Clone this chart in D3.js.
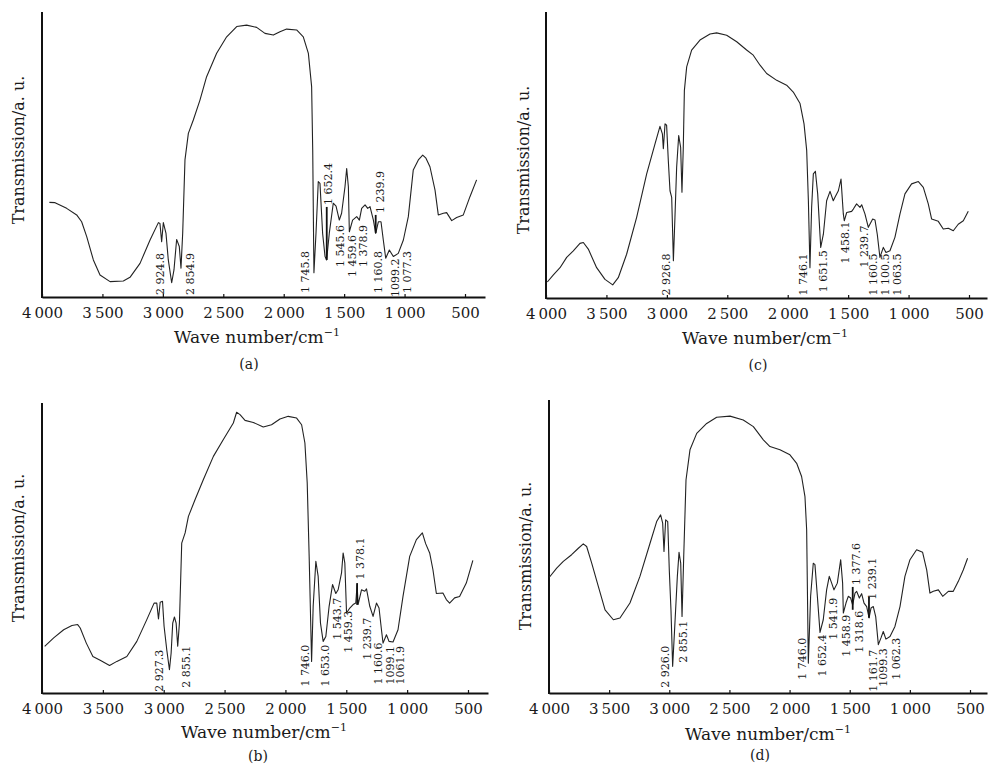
<!DOCTYPE html>
<html>
<head>
<meta charset="utf-8">
<script src="https://cdn.jsdelivr.net/npm/d3@7"></script>
<style>
  body { margin: 0; background: #fff; }
  svg text { font-family: "DejaVu Serif", serif; fill: #1a1a1a; }
</style>
</head>
<body>
<script>
'use strict';

// tick values shared by all four panels
var tickWaves = [4000, 3500, 3000, 2500, 2000, 1500, 1000, 500];

// panel (a) spectrum
var waveA = [3939,3892,3796,3713,3672,3630,3575,3520,3437,3327,3272,3189,3106,3037,3024,3010,2996,2974,2955,2927,
  2908,2886,2864,2850,2836,2817,2789,2748,2693,2638,2555,2472,2389,2307,2224,2155,2086,2031,1976,1893,
  1838,1796,1769,1760,1750,1733,1714,1700,1678,1658,1645,1623,1590,1567,1540,1521,1493,1479,1465,1457,
  1430,1396,1374,1355,1327,1305,1286,1258,1239,1217,1195,1176,1156,1126,1093,1052,1010,969,928,886,
  850,823,790,748,721,679,652,610,569,514,459,404];
var transA = [33.2,33.1,31.1,28.8,26.4,21.2,13.0,7.7,5.4,5.6,6.9,11.8,20.0,26.1,25.8,19.4,26.1,22.3,13.0,5.0,
  9.5,20.2,17.7,10.1,22.3,48.1,57.4,62.1,69.1,77.3,85.5,91.3,94.9,95.4,94.6,92.5,91.9,93.1,94.0,93.7,
  91.3,85.5,73.8,51.6,8.5,22.3,40.5,39.9,22.3,14.2,13.0,22.3,32.9,31.9,27.0,29.4,38.7,45.1,38.7,22.9,
  27.0,28.2,27.0,31.1,32.3,31.1,31.7,27.0,22.3,26.4,26.4,20.0,13.6,16.5,14.2,15.3,20.0,28.2,44.6,48.1,
  49.8,48.7,45.7,37.5,28.8,29.4,29.6,26.8,27.9,28.8,35.2,41.1];
var peaksA = ['2 924.8','2 854.9','1 745.8','1 652.4','1 545.6','1 459.6','1 378.9','1 239.9','1 160.8','1099.2','1 077.3'];
var peakWaveA = [3024,2775,1824,1634,1534,1435,1344,1203,1220,1079,980];
var peakTransA = [0.7,0.7,1.4,32.3,10.5,7.0,10.5,29.5,1.4,0,1.4];
var leadersA = [[1644,13,31.6],[1239,22.5,28.8]];

// panel (b) spectrum
var waveB = [3978,3904,3822,3754,3707,3686,3636,3582,3522,3445,3385,3303,3221,3139,3079,3057,3043,3029,3010,2997,
  2975,2953,2939,2926,2912,2898,2885,2871,2852,2824,2797,2742,2674,2592,2510,2428,2401,2373,2332,2264,
  2182,2114,2045,1977,1908,1867,1840,1821,1805,1785,1772,1750,1731,1712,1690,1668,1641,1613,1586,1567,
  1539,1526,1512,1498,1471,1444,1422,1411,1403,1375,1348,1334,1307,1280,1252,1231,1211,1198,1170,1149,
  1116,1075,1034,979,924,875,848,815,788,760,706,678,651,610,569,514,460];
var transB = [16.1,19.0,21.8,23.3,23.6,22.4,17.2,12.6,11.3,9.5,10.9,12.6,17.8,25.3,31.0,31.0,25.5,31.3,31.6,23.0,
  14.9,8.0,13.8,24.1,26.2,24.1,16.1,24.1,51.7,55.2,60.9,66.7,73.6,81.6,87.4,93.1,96.8,96.0,94.0,93.3,
  91.7,92.5,94.5,95.4,94.8,92.5,86.2,72.4,47.1,10.9,29.9,45.4,40.2,24.1,17.8,19.5,29.9,37.4,34.3,35.6,
  41.4,48.3,44.8,27.6,29.3,30.5,31.0,37.4,30.5,35.6,35.1,35.9,29.9,26.4,31.0,29.3,21.8,17.2,20.1,17.8,
  17.6,21.8,33.3,47.1,52.9,55.2,51.5,48.3,42.5,34.3,34.5,32.2,31.0,32.8,33.3,37.9,45.7];
var peaksB = ['2 927.3','2 855.1','1 746.0','1 653.0','1 543.7','1 459.3','1 378.1','1 239.7','1 160.6','1099.1','1061.9'];
var peakWaveB = [3038,2815,1840,1676,1578,1485,1389,1333,1238,1142,1060];
var peakTransB = [0.4,1.8,2.2,2.2,18.4,13.9,39.1,11.5,2.9,2.9,2.9];
var leadersB = [[1411,30.4,37.9]];

// panel (c) spectrum
var waveC = [3989,3939,3884,3829,3774,3719,3691,3650,3581,3512,3448,3402,3333,3250,3167,3098,3057,3037,3029,3015,
  3002,2988,2974,2960,2946,2933,2919,2902,2886,2875,2864,2855,2836,2795,2726,2643,2588,2505,2422,2340,
  2285,2229,2174,2091,2009,1954,1898,1865,1843,1829,1816,1802,1788,1771,1752,1727,1705,1678,1650,1623,
  1609,1581,1559,1540,1532,1512,1471,1457,1430,1402,1388,1361,1333,1297,1278,1259,1237,1209,1187,1154,
  1113,1071,1030,975,919,878,837,809,754,713,671,630,589,547,506];
var transC = [5.6,8.1,10.6,14.2,16.5,19.1,19.4,17.1,10.6,6.5,4.6,7.1,15.3,28.2,43.4,53.9,60.0,57.4,52.2,60.9,
  60.4,48.1,37.5,35.2,13.0,28.2,45.7,56.8,52.7,37.0,52.7,72.6,80.8,86.7,90.2,92.3,92.7,91.9,89.6,86.7,
  84.9,81.4,78.5,76.1,74.4,72.0,68.0,60.9,51.6,34.0,10.6,31.7,43.4,44.3,36.4,17.7,22.3,34.0,37.3,34.0,
  35.2,37.5,41.6,29.4,27.0,29.9,30.3,31.1,32.9,31.7,32.6,29.4,24.7,27.6,27.3,22.3,14.2,17.7,15.9,16.5,
  21.2,29.4,36.4,39.9,40.7,38.7,32.9,27.6,26.8,24.1,24.4,23.5,25.8,27.0,30.3];
var peaksC = ['2 926.8','1 746.1','1 651.5','1 458.1','1 239.7','1 160.5','1 100.5','1 063.5'];
var peakWaveC = [3007,1873,1708,1526,1369,1294,1195,1096];
var peakTransC = [0.9,0.9,2.0,12.1,10.7,0.9,0.9,0.9];
var leadersC = [];

// panel (d) spectrum
var waveD = [3997,3936,3881,3812,3756,3715,3687,3645,3590,3534,3465,3410,3327,3244,3160,3105,3072,3055,3044,3030,
  3013,3000,2986,2972,2953,2933,2919,2905,2894,2880,2861,2828,2772,2689,2606,2495,2385,2301,2218,2163,
  2080,1997,1941,1900,1872,1858,1844,1825,1803,1789,1769,1747,1720,1692,1670,1650,1631,1603,1575,1559,
  1553,1531,1512,1492,1476,1456,1442,1420,1401,1381,1359,1339,1323,1304,1284,1262,1240,1221,1199,1165,
  1124,1082,1041,999,944,894,860,833,805,763,727,680,639,597,556,520];
var transD = [39.5,42.6,44.9,47.2,49.4,50.9,50.0,44.3,36.4,28.4,25.0,25.6,30.7,39.8,51.1,58.5,60.8,58.0,48.3,59.1,
  58.5,42.0,28.4,9.1,23.9,39.8,48.0,44.3,26.1,46.6,72.7,83.0,88.6,92.0,94.1,94.5,93.2,90.9,86.4,84.1,
  83.0,81.3,78.4,73.9,67.0,55.7,10.2,33.0,44.3,43.8,33.0,20.7,25.0,35.2,39.8,37.5,35.2,37.5,45.5,37.5,
  27.3,30.7,33.0,32.4,30.1,34.1,34.7,32.4,33.9,30.7,29.5,25.6,29.0,29.5,26.1,16.5,18.8,21.0,18.4,19.3,
  22.7,29.5,39.8,45.5,48.9,48.0,42.0,34.1,34.7,35.2,33.0,34.7,34.7,38.1,42.0,46.0];
var peaksD = ['2 926.0','2 855.1','1 746.0','1 652.4','1 541.9','1 458.9','1 377.6','1 318.6','1 239.1','1 161.7','1099.3','1 062.3'];
var peakWaveD = [3036,2886,1897,1730,1639,1531,1448,1423,1315,1306,1223,1115];
var peakTransD = [1.8,10.3,4.5,5.6,18.2,12.4,36.9,13.7,31.8,0.4,2.1,4.5];
var leadersD = [[1475,28.4,36.2],[1340,25.7,32.8]];

// panel layout (pixel boxes)
var panels = [
  {name: '(a)', wave: waveA, trans: transA, peaks: peaksA, pw: peakWaveA, pt: peakTransA, leaders: leadersA,
   left: 42, tick500: 465, right: 485, top: 12, bottom: 297, yTitle: [18, 150], xTitle: [257, 343], label: [249, 369]},
  {name: '(b)', wave: waveB, trans: transB, peaks: peaksB, pw: peakWaveB, pt: peakTransB, leaders: leadersB,
   left: 42, tick500: 468, right: 488, top: 403, bottom: 693, yTitle: [18, 548], xTitle: [264, 738], label: [258, 761]},
  {name: '(c)', wave: waveC, trans: transC, peaks: peaksC, pw: peakWaveC, pt: peakTransC, leaders: leadersC,
   left: 546, tick500: 969, right: 987, top: 12, bottom: 298, yTitle: [523, 160], xTitle: [765, 344], label: [758, 370]},
  {name: '(d)', wave: waveD, trans: transD, peaks: peaksD, pw: peakWaveD, pt: peakTransD, leaders: leadersD,
   left: 549, tick500: 970, right: 987, top: 400, bottom: 693, yTitle: [525, 556], xTitle: [768, 740], label: [760, 760]}
];

var fmt = d3.formatLocale({decimal: '.', thousands: '\u2009', grouping: [3], currency: ['', '']}).format(',');

var svg = d3.select('body').append('svg')
    .attr('width', 988)
    .attr('height', 773);

panels.forEach(drawPanel);

function drawPanel(p) {
    // x scale: 4000 and 500 ticks at fixed pixels, axis runs a bit past 500
    var base = d3.scaleLinear().domain([4000, 500]).range([p.left, p.tick500]);
    var x = d3.scaleLinear().domain([4000, base.invert(p.right)]).range([p.left, p.right]);
    var y = d3.scaleLinear().domain([0, 100]).range([p.bottom, p.top]);

    var g = svg.append('g');

    // bottom axis with short inward ticks
    var ax = g.append('g')
        .attr('transform', 'translate(0,' + p.bottom + ')')
        .call(d3.axisBottom(x).tickValues(tickWaves).tickFormat(fmt)
            .tickSize(-3).tickSizeOuter(0).tickPadding(10));
    ax.select('.domain').attr('stroke', '#111').attr('stroke-width', 2);
    ax.selectAll('.tick line').attr('stroke', '#111').attr('stroke-width', 1.2);
    ax.selectAll('.tick text').attr('font-size', 15);

    // left axis line only
    g.append('line')
        .attr('x1', p.left).attr('x2', p.left)
        .attr('y1', y(100)).attr('y2', p.bottom + 1)
        .attr('stroke', '#111').attr('stroke-width', 2);

    // spectrum
    var line = d3.line()
        .x(function(d) { return x(d[0]); })
        .y(function(d) { return y(d[1]); });
    g.append('path')
        .datum(d3.zip(p.wave, p.trans))
        .attr('fill', 'none')
        .attr('stroke', '#222')
        .attr('stroke-width', 1.1)
        .attr('stroke-linejoin', 'round')
        .attr('d', line);

    // leader lines for some peaks
    g.selectAll('.leader')
        .data(p.leaders)
        .enter().append('line')
        .attr('x1', function(d) { return x(d[0]); })
        .attr('x2', function(d) { return x(d[0]); })
        .attr('y1', function(d) { return y(d[1]); })
        .attr('y2', function(d) { return y(d[2]); })
        .attr('stroke', '#111').attr('stroke-width', 1.8);

    // peak labels, rotated
    g.selectAll('.peak')
        .data(p.peaks)
        .enter().append('text')
        .attr('font-size', 11)
        .attr('dy', '0.36em')
        .attr('transform', function(d, i) {
            return 'translate(' + x(p.pw[i]) + ',' + y(p.pt[i]) + ') rotate(-90)';
        })
        .text(function(d) { return d; });

    // axis titles
    g.append('text')
        .attr('text-anchor', 'middle')
        .attr('font-size', 16)
        .attr('transform', 'translate(' + p.yTitle[0] + ',' + p.yTitle[1] + ') rotate(-90)')
        .attr('dy', '0.35em')
        .text('Transmission/a. u.');

    var xt = g.append('text')
        .attr('text-anchor', 'middle')
        .attr('font-size', 17)
        .attr('x', p.xTitle[0])
        .attr('y', p.xTitle[1]);
    xt.append('tspan').text('Wave number/cm');
    xt.append('tspan').attr('font-size', 11).attr('dy', -7).text('\u22121');

    g.append('text')
        .attr('text-anchor', 'middle')
        .attr('font-size', 14)
        .attr('x', p.label[0])
        .attr('y', p.label[1])
        .text(p.name);
}
</script>
</body>
</html>
